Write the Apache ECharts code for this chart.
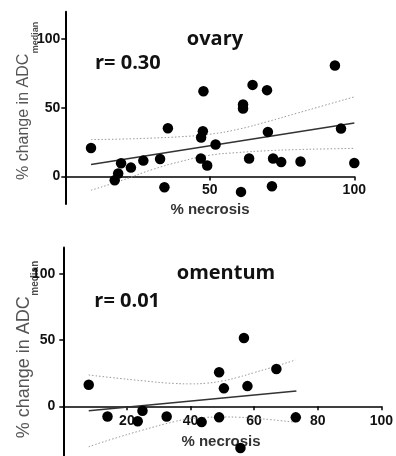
<!DOCTYPE html>
<html>
<head>
<meta charset="utf-8">
<script src="https://cdn.jsdelivr.net/npm/echarts@6/dist/echarts.min.js"></script>
<style>
  html, body { margin: 0; padding: 0; background: #fff; }
  #chart { width: 396px; height: 456px; }
</style>
</head>
<body>
<div id="chart"></div>
<script>
// ---- ovary panel ----
const ovaryNecrosis = [8.9, 17.1, 18.3, 19.3, 22.7, 27.0, 32.8, 34.3, 35.5, 46.9, 47.0, 47.6, 47.8, 49.1, 52.0,
                       60.8, 61.5, 61.5, 63.6, 64.8, 69.8, 70.1, 71.5, 71.9, 74.7, 81.4, 93.3, 95.4, 100];
const ovaryChange   = [20.8, -2.7, 2.2, 9.7, 6.5, 11.6, 12.8, -7.8, 35.2, 13.1, 28.4, 33.0, 62.1, 8.0, 23.3,
                       -11.2, 52.4, 49.5, 13.1, 66.7, 62.9, 32.5, -7.1, 13.1, 10.6, 10.9, 80.8, 34.9, 9.9];
const ovaryFitX = [8.9, 100];
const ovaryFitY = [8.7, 39.0];
const ovaryBandX     = [8.9, 20, 30, 40, 50, 60, 70, 80, 90, 100];
const ovaryBandUpper = [26.9, 27.3, 28.0, 29.0, 30.8, 34.5, 40.0, 46.0, 52.0, 58.0];
const ovaryBandLower = [-10.0, -2.5, 5.0, 11.0, 15.5, 17.5, 18.8, 19.6, 20.1, 20.5];
const ovaryTicksX = [50, 100];
const ovaryTicksY = [0, 50, 100];
const ovaryTitle = 'ovary';
const ovaryR = 'r= 0.30';

// ---- omentum panel ----
const omentumNecrosis = [8.0, 13.9, 23.4, 24.9, 32.5, 43.5, 49.0, 49.0, 50.5, 56.8, 55.7, 57.9, 67.0, 73.1];
const omentumChange   = [16.3, -7.6, -11.3, -3.3, -7.6, -11.9, 25.7, -8.3, 13.6, 51.6, -31.5, 15.3, 28.2, -8.3];
const omentumFitX = [8.0, 73.3];
const omentumFitY = [-3.4, 11.6];
const omentumBandX     = [8.0, 15, 25, 35, 40, 45, 50, 55, 60, 65, 73];
const omentumBandUpper = [23.7, 21.8, 19.3, 17.3, 17.0, 17.5, 19.2, 22.0, 25.5, 29.0, 35.0];
const omentumBandLower = [-30.5, -25.0, -17.9, -11.5, -9.3, -8.3, -8.0, -8.2, -9.0, -10.0, -12.0];
const omentumTicksX = [20, 40, 60, 80, 100];
const omentumTicksY = [0, 50, 100];
const omentumTitle = 'omentum';
const omentumR = 'r= 0.01';

const xTitle = '% necrosis';
const yTitleMain = '% change in ADC';
const yTitleSub = 'median';

const zip = (xs, ys) => xs.map((x, i) => [x, ys[i]]);

const chart = echarts.init(document.getElementById('chart'), null, { renderer: 'canvas' });

const TICK_FONT = 'Liberation Sans';
const TITLE_FONT = 'Open Sans';

// panel geometry
const grids = [
  { left: 65.3, right: 41.7, top: 11.7, height: 192.3, yMin: -20 },
  { left: 63.3, right: 14.3, top: 247.5, height: 208.5, yMin: -37.5 }
];
const Y_MAX = 120;

// the x axis crosses the y axis at 0: shift it up from the grid bottom
function zeroOffset(g) {
  return -g.height * (0 - g.yMin) / (Y_MAX - g.yMin);
}

function xAxisFor(gridIndex, ticks, margin) {
  return {
    gridIndex, type: 'value', min: 0, max: 100,
    offset: zeroOffset(grids[gridIndex]),
    splitLine: { show: false },
    axisLine: { onZero: false, lineStyle: { color: '#000', width: 1.5 } },
    axisTick: { customValues: ticks, length: 4, lineStyle: { color: '#000', width: 1.5 } },
    axisLabel: { customValues: ticks, margin, color: '#111', fontSize: 14, fontWeight: 'bold', fontFamily: TICK_FONT }
  };
}
function yAxisFor(gridIndex, ticks, margin) {
  return {
    gridIndex, type: 'value', min: grids[gridIndex].yMin, max: Y_MAX,
    splitLine: { show: false },
    axisLine: { onZero: false, lineStyle: { color: '#000', width: 2 } },
    axisTick: { customValues: ticks, length: 4, lineStyle: { color: '#000', width: 1.5 } },
    axisLabel: { customValues: ticks, margin, color: '#111', fontSize: 14, fontWeight: 'bold', fontFamily: TICK_FONT }
  };
}

function panelSeries(idx, nx, ny, fx, fy, bx, bu, bl) {
  const bandStyle = { color: '#9a9a9a', width: 1, type: [1.5, 2] };
  return [
    { type: 'line', xAxisIndex: idx, yAxisIndex: idx, data: zip(bx, bu), smooth: true, showSymbol: false,
      lineStyle: bandStyle, z: 1 },
    { type: 'line', xAxisIndex: idx, yAxisIndex: idx, data: zip(bx, bl), smooth: true, showSymbol: false,
      lineStyle: bandStyle, z: 1 },
    { type: 'line', xAxisIndex: idx, yAxisIndex: idx, data: zip(fx, fy), showSymbol: false,
      lineStyle: { color: '#333', width: 1.5 }, z: 2 },
    { type: 'scatter', xAxisIndex: idx, yAxisIndex: idx, data: zip(nx, ny), symbolSize: 10.5,
      itemStyle: { color: '#000', opacity: 1 }, z: 3, clip: false }
  ];
}

// place "median" right after the main y-title text
const measureCtx = document.createElement('canvas').getContext('2d');
function textWidth(str, font) { measureCtx.font = font; return measureCtx.measureText(str).width; }

function yTitle(xMain, yStart, mainSize, xSub, subSize) {
  const w = textWidth(yTitleMain, mainSize + 'px "' + TICK_FONT + '"');
  return [
    { type: 'text', x: xMain, y: yStart, rotation: Math.PI / 2,
      style: { text: yTitleMain, fill: '#555', font: mainSize + 'px "' + TICK_FONT + '"', align: 'left', verticalAlign: 'middle' } },
    { type: 'text', x: xSub, y: yStart - w - 0.5, rotation: Math.PI / 2,
      style: { text: yTitleSub, fill: '#4a4a4a', font: 'bold ' + subSize + 'px "' + TICK_FONT + '"', align: 'left', verticalAlign: 'middle' } }
  ];
}

function label(text, x, y, font, fill, align) {
  return { type: 'text', x, y, style: { text, fill, font, align: align || 'center', verticalAlign: 'middle' } };
}

const option = {
  animation: false,
  backgroundColor: '#fff',
  grid: grids.map(g => ({ left: g.left, right: g.right, top: g.top, height: g.height })),
  xAxis: [ xAxisFor(0, ovaryTicksX, 7), xAxisFor(1, omentumTicksX, 8) ],
  yAxis: [ yAxisFor(0, ovaryTicksY, 5), yAxisFor(1, omentumTicksY, 8) ],
  series: [
    ...panelSeries(0, ovaryNecrosis, ovaryChange, ovaryFitX, ovaryFitY, ovaryBandX, ovaryBandUpper, ovaryBandLower),
    ...panelSeries(1, omentumNecrosis, omentumChange, omentumFitX, omentumFitY, omentumBandX, omentumBandUpper, omentumBandLower)
  ],
  graphic: [
    label(ovaryTitle, 215, 39, 'bold 20px "' + TITLE_FONT + '"', '#111'),
    label(ovaryR, 95, 63, 'bold 20px "' + TITLE_FONT + '"', '#111', 'left'),
    label(xTitle, 210, 209.5, 'bold 15px "' + TICK_FONT + '"', '#333'),
    ...yTitle(23.8, 180, 16, 35.5, 9),
    label(omentumTitle, 226, 273, 'bold 20px "' + TITLE_FONT + '"', '#111'),
    label(omentumR, 94.3, 301, 'bold 20px "' + TITLE_FONT + '"', '#111', 'left'),
    label(xTitle, 221, 442, 'bold 15px "' + TICK_FONT + '"', '#333'),
    ...yTitle(24.2, 438.3, 18, 35, 10)
  ]
};

chart.setOption(option);
</script>
</body>
</html>
